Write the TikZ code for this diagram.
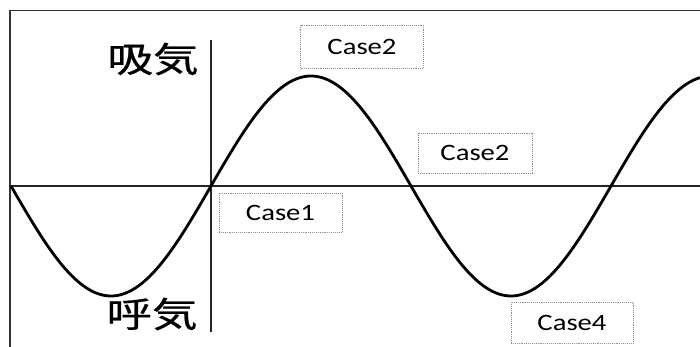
\documentclass[tikz,border=0pt]{standalone}
\usepackage{fontspec}
\setmainfont{Carlito}
\newfontfamily\jpfont[FakeBold=0.6]{Noto Sans CJK JP}
\begin{document}
\begin{tikzpicture}[x=1pt,y=-1pt,
  casebox/.style={draw=black!45, densely dotted, line width=0.9pt, fill=white, inner sep=0pt, font=\fontsize{23.5}{25}\selectfont},
  jplabel/.style={inner sep=0pt, font=\jpfont\fontsize{35}{38}\selectfont, xscale=1.3},
  axis/.style={line width=1.4pt, black!85},
  frameline/.style={line width=1.3pt, black!80},
  wave/.style={line width=2.8pt, black, line join=round}]
\useasboundingbox (0,0) rectangle (700,347);
% frame
\coordinate (ftr) at (700,10.5);
\coordinate (ftl) at (10,10.5);
\coordinate (fbl) at (10,347);
\draw[frameline] (ftr) -- (ftl) -- (fbl);
% axes
\coordinate (hl) at (11,186);
\coordinate (hr) at (700,186);
\coordinate (vt) at (211,40);
\coordinate (vb) at (211,332);
\draw[axis] (hl) -- (hr);
\draw[axis] (vt) -- (vb);
% wave
\draw[wave] plot[domain=11:700, samples=240, smooth] (\x, {186+110*sin(0.9*(\x-11))});
% labels
\node[jplabel] (inhale) at (153,59) {吸気};
\node[jplabel] (exhale) at (152,314) {呼気};
% boxes
\node[casebox, minimum width=123pt, minimum height=43pt] (c2a) at (362,46.5) {\scalebox{1.22}[1]{Case2}};
\node[casebox, minimum width=114pt, minimum height=40pt] (c2b) at (475,153) {\scalebox{1.22}[1]{Case2}};
\node[casebox, minimum width=123pt, minimum height=39pt] (c1) at (280.5,212.5) {\scalebox{1.22}[1]{Case1}};
\node[casebox, minimum width=122pt, minimum height=41pt] (c4) at (572,322.5) {\scalebox{1.22}[1]{Case4}};
\end{tikzpicture}
\end{document}
